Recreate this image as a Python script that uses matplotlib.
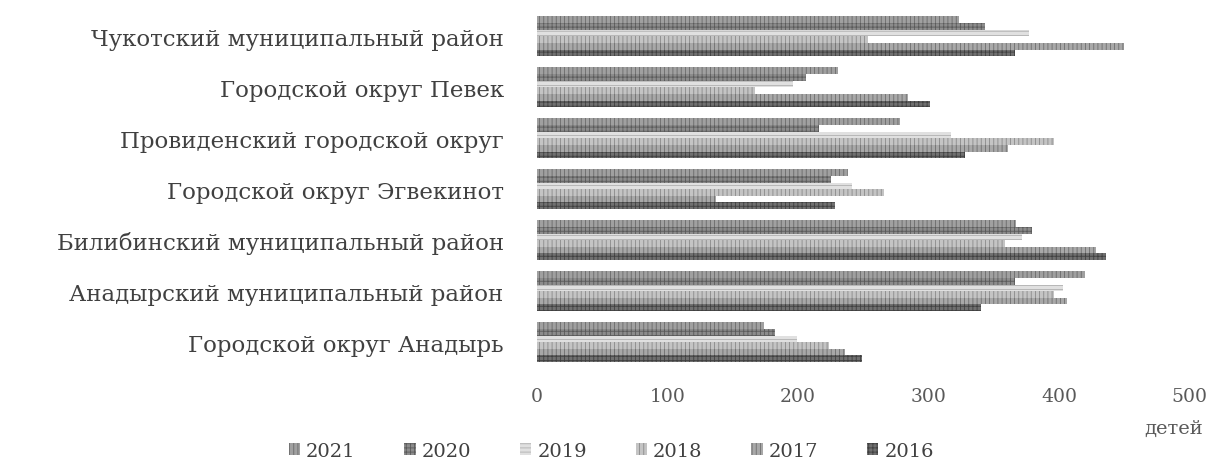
import numpy as np
import matplotlib.pyplot as plt
from matplotlib.patches import Patch

# данные
districts = ['Городской округ Анадырь',
             'Анадырский муниципальный район',
             'Билибинский муниципальный район',
             'Городской округ Эгвекинот',
             'Провиденский городской округ',
             'Городской округ Певек',
             'Чукотский муниципальный район']
years = ['2021', '2020', '2019', '2018', '2017', '2016']

v2021 = [174, 420, 367, 238, 278, 231, 323]
v2020 = [182, 366, 379, 225, 216, 206, 343]
v2019 = [199, 403, 372, 241, 317, 196, 377]
v2018 = [224, 396, 359, 266, 396, 167, 254]
v2017 = [236, 406, 428, 137, 361, 284, 450]
v2016 = [249, 340, 436, 228, 328, 301, 366]
values = [v2021, v2020, v2019, v2018, v2017, v2016]

faces = ['#a0a0a0', '#8c8c8c', '#e0e0e0', '#c4c4c4', '#a8a8a8', '#707070']
hatches = ['||||', '++++', '----', '||||', '||||', '++++']
hcolors = ['#6a6a6a', '#5a5a5a', '#b0b0b0', '#8a8a8a', '#6e6e6e', '#404040']

plt.rcParams['font.family'] = ['DejaVu Serif']
plt.rcParams['hatch.linewidth'] = 0.6

fig = plt.figure(figsize=(12.15, 4.64), dpi=100)
ax = fig.add_axes([0.442, 0.2, 0.537, 0.78])

y = np.arange(len(districts))
h = 0.13
for i, yr in enumerate(years):
    off = (2.5 - i) * h
    ax.barh(y + off, values[i], height=h, color=faces[i], edgecolor=hcolors[i],
            hatch=hatches[i], linewidth=0, label=yr)

ax.set_xlim(0, 500)
ax.set_ylim(-0.55, 6.55)
ax.set_xticks(np.arange(0, 501, 100))
ax.set_yticks(y)
ax.set_yticklabels(districts, fontsize=16.5, color='#404040')
ax.tick_params(axis='x', labelsize=13.5, colors='#595959', length=0, pad=12)
ax.tick_params(axis='y', length=0, pad=24)
for s in ax.spines.values():
    s.set_visible(False)

ax.set_xlabel('детей', fontsize=14, color='#595959')
ax.xaxis.set_label_coords(1.02, -0.135)
ax.xaxis.label.set_horizontalalignment('right')

handles = [Patch(facecolor=faces[i], edgecolor=hcolors[i], hatch=hatches[i],
                 linewidth=0, label=years[i]) for i in range(6)]
fig.legend(handles=handles, loc='lower center', ncol=6, frameon=False,
           bbox_to_anchor=(0.503, -0.022), fontsize=14, handlelength=0.6,
           handleheight=0.6, handletextpad=0.3, columnspacing=2.5,
           labelcolor='#404040', borderpad=0.2)

plt.savefig('out.png', dpi=100)
